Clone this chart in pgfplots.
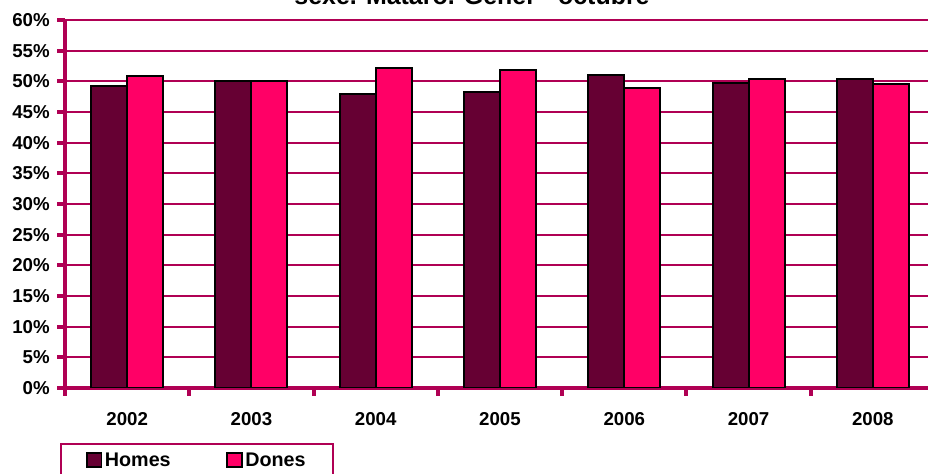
\documentclass[border=0pt]{standalone}
\usepackage{fontspec}
\setmainfont{Liberation Sans}
\usepackage{pgfplots}
\pgfplotsset{compat=1.18}

\definecolor{axiscol}{RGB}{176,0,84}
\definecolor{homes}{RGB}{102,0,51}
\definecolor{dones}{RGB}{255,0,102}

\begin{document}
\begin{tikzpicture}
\useasboundingbox (0,0) rectangle (696pt,355.5pt);

\begin{axis}[
  at={(48.75pt,64.5pt)}, anchor=south west,
  scale only axis,
  width=652.5pt, height=276pt,
  xmin=-0.5, xmax=6.5,
  ymin=0, ymax=60,
  axis x line*=bottom, axis y line*=left,
  axis line style={-, axiscol, line width=3pt},
  tick align=outside,
  major tick length=6pt,
  tick style={axiscol, line width=3pt},
  xtick={-0.5,0.5,...,6.5},
  xticklabels={2002,2003,2004,2005,2006,2007,2008,},
  xticklabel style={anchor=base, xshift=46.61pt, yshift=-22pt},
  ytick={0,5,...,60},
  yticklabels={0\%,5\%,10\%,15\%,20\%,25\%,30\%,35\%,40\%,45\%,50\%,55\%,60\%},
  yticklabel style={anchor=east, xshift=-2pt},
  ticklabel style={font=\bfseries\fontsize{14}{16}\selectfont},
  ymajorgrids,
  grid style={axiscol, line width=1.5pt},
  ybar=0pt,
  bar width=27pt,
  legend columns=2,
  legend style={
    at={(-0.00575,-0.1486)}, anchor=north west,
    draw=axiscol, line width=1.5pt,
    font=\bfseries\fontsize{14.8}{17}\selectfont,
    inner xsep=18.75pt, inner ysep=5.25pt,
    cells={anchor=west},
    /tikz/every even column/.append style={column sep=39.75pt},
  },
  legend image code/.code={
    \draw[#1, draw=black, line width=1.2pt] (0pt,-4.5pt) rectangle (11pt,6pt);
  },
]
\addplot[fill=homes, draw=black, line width=1.5pt] coordinates {
  (0,49.2) (1,50.0) (2,47.9) (3,48.2) (4,51.1) (5,49.7) (6,50.4)
};
\addplot[fill=dones, draw=black, line width=1.5pt] coordinates {
  (0,50.8) (1,50.0) (2,52.1) (3,51.8) (4,48.9) (5,50.3) (6,49.6)
};
\legend{Homes,Dones}
\end{axis}

\node[anchor=base, font=\bfseries\fontsize{18.7}{22}\selectfont] at (354pt,351.75pt)
  {sexe. Mataró. Gener - octubre};
\end{tikzpicture}
\end{document}
